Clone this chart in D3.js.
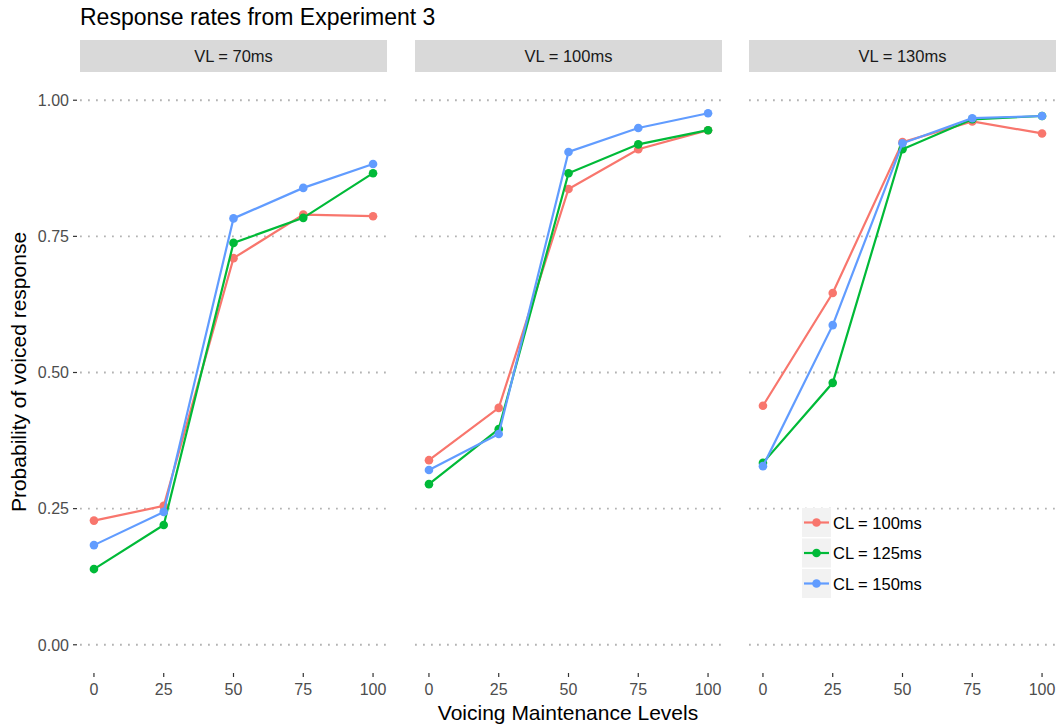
<!DOCTYPE html>
<html>
<head>
<meta charset="utf-8">
<script src="https://cdn.jsdelivr.net/npm/d3@7"></script>
<style>
  body { margin: 0; background: #fff; }
  text { font-family: "Liberation Sans", Arial, sans-serif; }
</style>
</head>
<body>
<script>
/*--- data ---*/
let levels = [0, 25, 50, 75, 100];
let panels = ["VL = 70ms", "VL = 100ms", "VL = 130ms"];
let seriesNames = ["CL = 100ms", "CL = 125ms", "CL = 150ms"];
let colors = ["#F8766D", "#00BA38", "#619CFF"];
let yTicks = [0, 0.25, 0.5, 0.75, 1];

// one array per panel, one row per CL series
let vl70 = [
  [0.228, 0.255, 0.710, 0.790, 0.787],
  [0.139, 0.220, 0.738, 0.784, 0.866],
  [0.183, 0.244, 0.783, 0.839, 0.883]
];
let vl100 = [
  [0.339, 0.435, 0.837, 0.910, 0.945],
  [0.295, 0.396, 0.866, 0.919, 0.945],
  [0.321, 0.387, 0.905, 0.949, 0.976]
];
let vl130 = [
  [0.439, 0.646, 0.923, 0.961, 0.939],
  [0.334, 0.481, 0.910, 0.965, 0.971],
  [0.328, 0.587, 0.921, 0.967, 0.971]
];
let panelData = [vl70, vl100, vl130];

/*--- layout ---*/
let W = 1060, H = 727;
let panelLeft = [80, 415, 749];
let panelW = 307;
let panelTop = 73, panelBottom = 672;
let stripTop = 40, stripH = 32;

let svg = d3.select("body").append("svg")
  .attr("width", W).attr("height", H);

// title
svg.append("text")
  .attr("x", 80).attr("y", 25)
  .attr("font-size", 23).attr("fill", "#000")
  .text("Response rates from Experiment 3");

// y scale (shared)
let Y = d3.scaleLinear().domain([-0.05, 1.05]).range([panelBottom, panelTop]);

// y axis labels + ticks
let yAxis = svg.append("g");
yTicks.forEach(function(t) {
  yAxis.append("line")
    .attr("x1", 73).attr("x2", 77)
    .attr("y1", Y(t)).attr("y2", Y(t))
    .attr("stroke", "#333").attr("stroke-width", 1.2);
  yAxis.append("text")
    .attr("x", 69).attr("y", Y(t) + 5.8)
    .attr("text-anchor", "end")
    .attr("font-size", 16).attr("fill", "#4d4d4d")
    .text(d3.format(".2f")(t));
});

let line = d3.line();

panels.forEach(function(name, p) {
  let x0 = panelLeft[p];
  let X = d3.scaleLinear().domain([-5, 105]).range([x0, x0 + panelW]);
  let g = svg.append("g");

  // strip
  g.append("rect")
    .attr("x", x0).attr("y", stripTop)
    .attr("width", panelW).attr("height", stripH)
    .attr("fill", "#d9d9d9");
  g.append("text")
    .attr("x", x0 + panelW / 2).attr("y", stripTop + stripH / 2 + 6)
    .attr("text-anchor", "middle")
    .attr("font-size", 16.5).attr("fill", "#1a1a1a")
    .text(name);

  // dotted grid
  yTicks.forEach(function(t) {
    g.append("line")
      .attr("x1", x0).attr("x2", x0 + panelW)
      .attr("y1", Y(t)).attr("y2", Y(t))
      .attr("stroke", "#b3b3b3")
      .attr("stroke-width", 1.8)
      .attr("stroke-dasharray", "1.8,6.2");
  });

  // x ticks + labels
  levels.forEach(function(l) {
    g.append("line")
      .attr("x1", X(l)).attr("x2", X(l))
      .attr("y1", panelBottom + 1).attr("y2", panelBottom + 5)
      .attr("stroke", "#333").attr("stroke-width", 1.2);
    g.append("text")
      .attr("x", X(l)).attr("y", 695)
      .attr("text-anchor", "middle")
      .attr("font-size", 16).attr("fill", "#4d4d4d")
      .text(l);
  });

  // series
  panelData[p].forEach(function(vals, s) {
    let pts = levels.map(function(l, i) { return [X(l), Y(vals[i])]; });
    g.append("path")
      .attr("d", line(pts))
      .attr("fill", "none")
      .attr("stroke", colors[s])
      .attr("stroke-width", 2.2);
    g.selectAll(null).data(pts).enter().append("circle")
      .attr("cx", function(d) { return d[0]; })
      .attr("cy", function(d) { return d[1]; })
      .attr("r", 4.3)
      .attr("fill", colors[s]);
  });
});

// axis titles
svg.append("text")
  .attr("x", 568).attr("y", 720)
  .attr("text-anchor", "middle")
  .attr("font-size", 21).attr("fill", "#000")
  .text("Voicing Maintenance Levels");
svg.append("text")
  .attr("transform", "translate(26,372) rotate(-90)")
  .attr("text-anchor", "middle")
  .attr("font-size", 21).attr("fill", "#000")
  .text("Probability of voiced response");

// legend
let legend = svg.append("g");
seriesNames.forEach(function(n, i) {
  let ky = 508 + i * 30.5;
  legend.append("rect")
    .attr("x", 802).attr("y", ky)
    .attr("width", 29).attr("height", 29)
    .attr("fill", "#f2f2f2");
  legend.append("line")
    .attr("x1", 804).attr("x2", 829)
    .attr("y1", ky + 14.5).attr("y2", ky + 14.5)
    .attr("stroke", colors[i]).attr("stroke-width", 2.2);
  legend.append("circle")
    .attr("cx", 816.5).attr("cy", ky + 14.5).attr("r", 4.3)
    .attr("fill", colors[i]);
  legend.append("text")
    .attr("x", 833).attr("y", ky + 20.5)
    .attr("font-size", 16.5).attr("fill", "#000")
    .text(n);
});
</script>
</body>
</html>
